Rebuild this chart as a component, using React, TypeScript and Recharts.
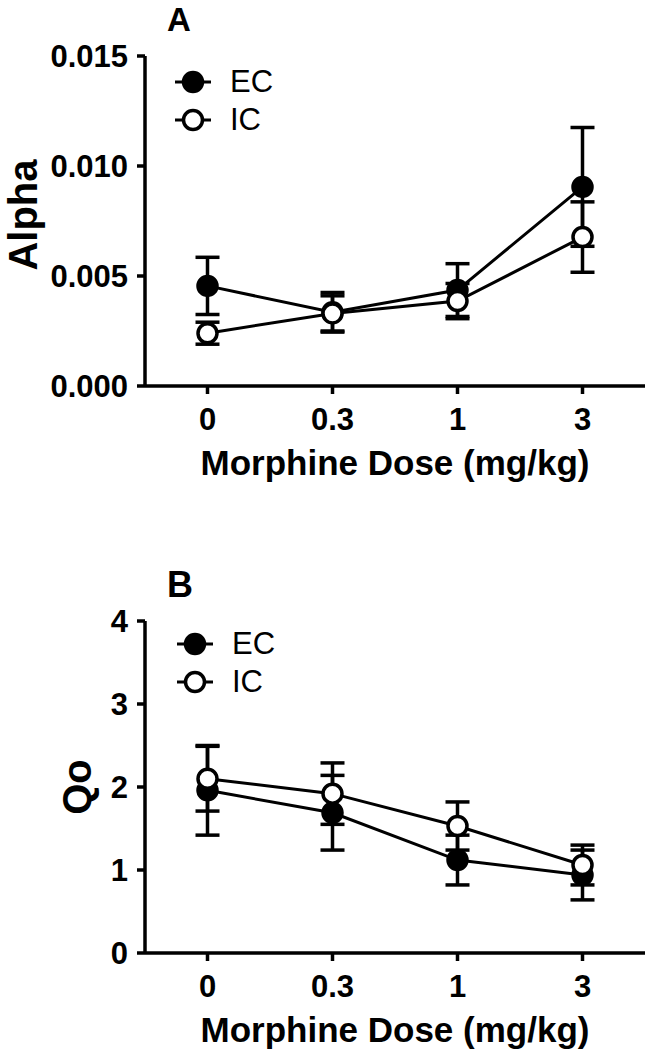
import { LineChart, Line, XAxis, YAxis, ErrorBar, Legend } from 'recharts';

// x categories (morphine dose, mg/kg)
const doses = ['0', '0.3', '1', '3'];

// panel A: alpha
const alphaEC = [0.00455, 0.00335, 0.00436, 0.00905];
const alphaECErr = [0.0013, 0.0009, 0.0012, 0.0027];
const alphaIC = [0.0024, 0.0033, 0.00386, 0.00677];
const alphaICErr = [0.0005, 0.0008, 0.0008, 0.0016];
const alphaTicks = [0, 0.005, 0.01, 0.015];

// panel B: Qo
const qoEC = [1.96, 1.69, 1.12, 0.94];
const qoECErr = [0.54, 0.45, 0.3, 0.3];
const qoIC = [2.1, 1.92, 1.53, 1.06];
const qoICErr = [0.39, 0.37, 0.29, 0.24];
const qoTicks = [0, 1, 2, 3, 4];

const groups = ['EC', 'IC'];

const FONT = '"Liberation Sans", Arial, Helvetica, sans-serif';
const W = 647;
const H = 525;

function buildRows(ec: number[], ecErr: number[], ic: number[], icErr: number[]) {
    return doses.map((d, i) => ({ dose: d, ec: ec[i], ecErr: ecErr[i], ic: ic[i], icErr: icErr[i] }));
}

function LegendBox() {
    return (
        <div style={{ fontFamily: FONT }}>
            {groups.map((g, i) => (
                <div key={g} style={{ display: 'flex', alignItems: 'center', height: 38.5 }}>
                    <svg width={37} height={26} style={{ display: 'block' }}>
                        <line x1={0} y1={13} x2={36} y2={13} stroke="#000" strokeWidth={3} />
                        <circle cx={18} cy={13} r={9.5} fill={i === 0 ? '#000' : '#fff'} stroke="#000" strokeWidth={3.5} />
                    </svg>
                    <span style={{ marginLeft: 18, fontSize: 31, lineHeight: '38px', color: '#000' }}>{g}</span>
                </div>
            ))}
        </div>
    );
}

type PanelProps = {
    letter: string;
    letterY: number;
    letterSize: number;
    yTitle: string;
    yTitleX: number;
    yTitleShift: number;
    rows: ReturnType<typeof buildRows>;
    ticks: number[];
    fmt: (v: number) => string;
    top: number;
    xHeight: number;
    legendTop: number;
    legendLeft: number;
};

function Panel(p: PanelProps) {
    const axisTick = { fontSize: 31, fontWeight: 700, fill: '#000', fontFamily: FONT };
    return (
        <div style={{ position: 'relative', width: W, height: H }}>
            <LineChart width={W} height={H} data={p.rows} margin={{ top: p.top, right: 2, left: 0, bottom: 0 }}>
                <XAxis
                    dataKey="dose"
                    type="category"
                    padding={{ left: 62.5, right: 62.5 }}
                    height={p.xHeight}
                    stroke="#000"
                    strokeWidth={3.5}
                    tickSize={8}
                    tickMargin={14}
                    tick={axisTick}
                    tickLine={{ stroke: '#000', strokeWidth: 3.5 }}
                    label={(lp: any) => (
                        <text
                            x={lp.viewBox.x + lp.viewBox.width / 2}
                            y={lp.viewBox.y + 89}
                            textAnchor="middle"
                            fontFamily={FONT}
                            fontWeight={700}
                            fontSize={35}
                            fill="#000"
                        >
                            Morphine Dose (mg/kg)
                        </text>
                    )}
                />
                <YAxis
                    type="number"
                    width={145}
                    domain={[p.ticks[0], p.ticks[p.ticks.length - 1]]}
                    ticks={p.ticks}
                    tickFormatter={p.fmt}
                    interval={0}
                    stroke="#000"
                    strokeWidth={3.5}
                    tickSize={8}
                    tickMargin={9}
                    tick={axisTick}
                    tickLine={{ stroke: '#000', strokeWidth: 3.5 }}
                    label={(lp: any) => {
                        const cy = lp.viewBox.y + lp.viewBox.height / 2 + p.yTitleShift;
                        return (
                            <text
                                x={p.yTitleX}
                                y={cy}
                                transform={`rotate(-90, ${p.yTitleX}, ${cy})`}
                                textAnchor="middle"
                                fontFamily={FONT}
                                fontWeight={700}
                                fontSize={40}
                                fill="#000"
                            >
                                {p.yTitle}
                            </text>
                        );
                    }}
                />
                <Legend
                    layout="vertical"
                    align="center"
                    verticalAlign="middle"
                    content={() => <LegendBox />}
                    wrapperStyle={{ position: 'absolute', top: p.legendTop, left: p.legendLeft, width: 'auto' }}
                />
                <Line
                    type="linear"
                    dataKey="ec"
                    name="EC"
                    stroke="#000"
                    strokeWidth={3}
                    dot={{ r: 9.5, fill: '#000', stroke: '#000', strokeWidth: 3.5 }}
                    activeDot={false}
                    isAnimationActive={false}
                >
                    <ErrorBar dataKey="ecErr" direction="y" width={12} stroke="#000" strokeWidth={3.5} />
                </Line>
                <Line
                    type="linear"
                    dataKey="ic"
                    name="IC"
                    stroke="#000"
                    strokeWidth={3}
                    dot={{ r: 9.5, fill: '#fff', stroke: '#000', strokeWidth: 3.5 }}
                    activeDot={false}
                    isAnimationActive={false}
                >
                    <ErrorBar dataKey="icErr" direction="y" width={12} stroke="#000" strokeWidth={3.5} />
                </Line>
            </LineChart>
            <svg width={W} height={H} style={{ position: 'absolute', left: 0, top: 0, pointerEvents: 'none' }}>
                <text x={167} y={p.letterY} fontFamily={FONT} fontWeight={700} fontSize={p.letterSize} fill="#000">
                    {p.letter}
                </text>
            </svg>
        </div>
    );
}

export default function App() {
    return (
        <div style={{ position: 'absolute', left: 0, top: 0, width: W, height: 1050, background: '#fff' }}>
            <Panel
                letter="A"
                letterY={31}
                letterSize={33}
                yTitle="Alpha"
                yTitleX={37}
                yTitleShift={-6}
                rows={buildRows(alphaEC, alphaECErr, alphaIC, alphaICErr)}
                ticks={alphaTicks}
                fmt={(v) => v.toFixed(3)}
                top={56}
                xHeight={139}
                legendTop={62.5}
                legendLeft={175}
            />
            <Panel
                letter="B"
                letterY={72}
                letterSize={36}
                yTitle="Qo"
                yTitleX={91}
                yTitleShift={0}
                rows={buildRows(qoEC, qoECErr, qoIC, qoICErr)}
                ticks={qoTicks}
                fmt={(v) => String(v)}
                top={96}
                xHeight={97}
                legendTop={99.5}
                legendLeft={177}
            />
        </div>
    );
}
